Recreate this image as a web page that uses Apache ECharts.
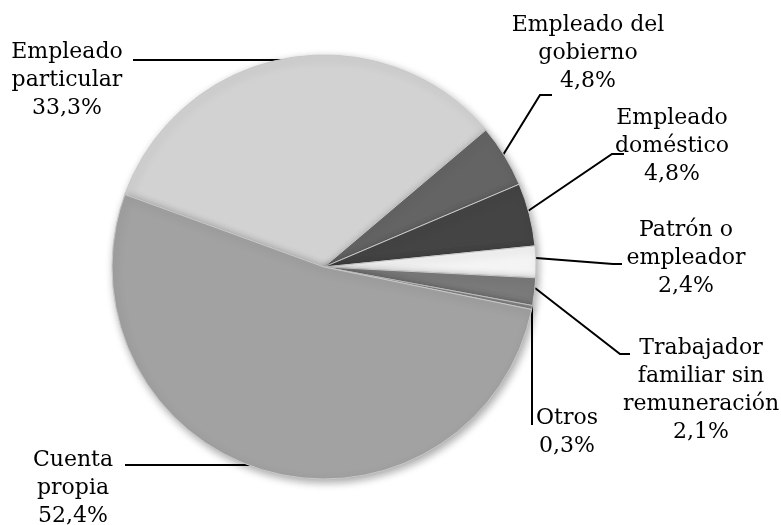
<!DOCTYPE html>
<html><head><meta charset="utf-8">
<script src="https://cdn.jsdelivr.net/npm/echarts@6/dist/echarts.min.js"></script>
<style>html,body{margin:0;padding:0;background:#fff}#c{width:781px;height:525px}</style>
</head><body><div id="c"></div>
<script>
const categories = ['Empleado\nparticular','Empleado del\ngobierno','Empleado\ndoméstico','Patrón o\nempleador','Trabajador\nfamiliar sin\nremuneración','Otros','Cuenta\npropia'];
const values = [33.3, 4.8, 4.8, 2.4, 2.1, 0.3, 52.4];
const colors = ['#d2d2d2','#646464','#444444','#f4f4f4','#7a7a7a','#8c8c8c','#a2a2a2'];
// label anchor (center x, top y) and leader line points
const labelPos = [[67,38],[588,11],[672,104],[686,216],[701,334],[567,404],[73,446]];
const leaders = [
  [[287,60],[210,60],[133,60]],
  [[503,155],[540,95],[552,95]],
  [[528,211],[612,154],[624,154]],
  [[536,258],[613,264],[622,264]],
  [[535,288],[620,354],[630,354]],
  [[532,298],[532,360],[532,425]],
  [[268,465],[200,465],[125,465]]
];
const chart = echarts.init(document.getElementById('c'), null, {renderer:'canvas'});
chart.setOption({
  animation:false,
  series:[{
    type:'pie',
    center:[324,267],
    radius:[0,212],
    startAngle:160,
    clockwise:true,
    avoidLabelOverlap:false,
    data: categories.map((c,i)=>({name:c, value:values[i], itemStyle:{color:colors[i]}})),
    itemStyle:{borderColor:'#c8c8c8', borderWidth:1, shadowBlur:8, shadowColor:'rgba(0,0,0,0.35)', shadowOffsetX:2, shadowOffsetY:3},
    label:{
      show:true,
      formatter: p => p.name + '\n' + values[p.dataIndex].toFixed(1).replace('.',',') + '%',
      fontFamily:'DejaVu Serif', fontSize:22, lineHeight:28, color:'#000'
    },
    labelLine:{show:true, lineStyle:{color:'#000', width:2}},
    labelLayout: function(params){
      const i = params.dataIndex;
      return {x:labelPos[i][0], y:labelPos[i][1], align:'center', verticalAlign:'top', labelLinePoints: leaders[i]};
    },
    emphasis:{disabled:true}
  }]
});
</script></body></html>
